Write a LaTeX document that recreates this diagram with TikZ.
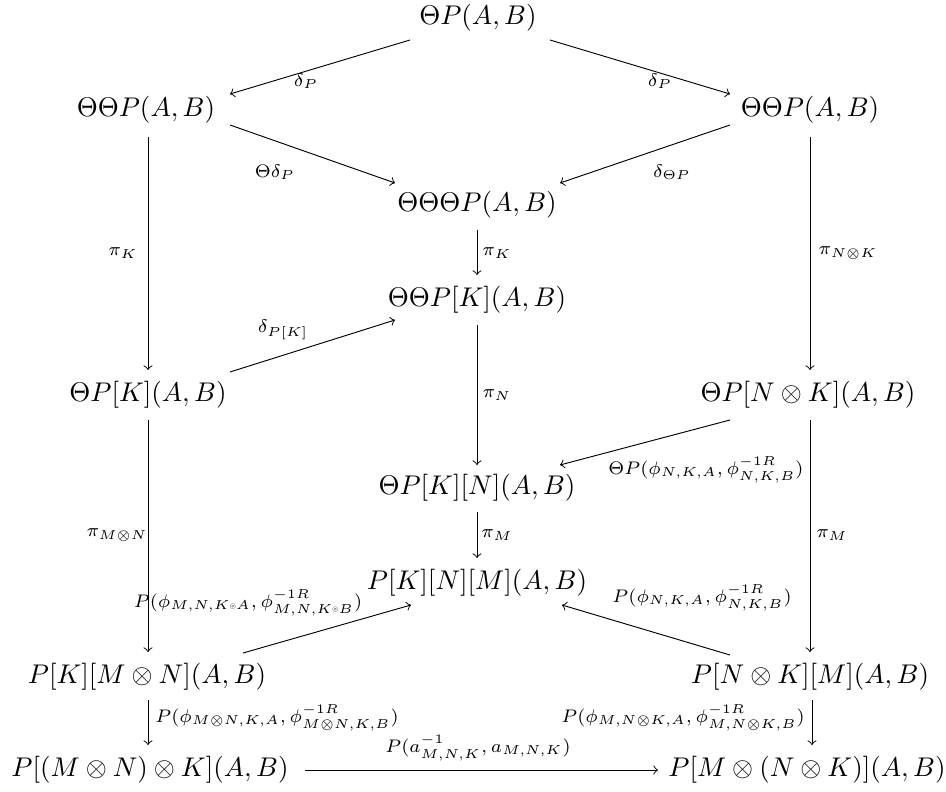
\documentclass[tikz,border=0pt]{standalone}
\usepackage{amssymb}
\newcommand\arrlabel[1]{\scalebox{0.96}{$#1$}}
\newcommand\smallcirc{\vcenter{\hbox{\scalebox{0.4}{$\circledcirc$}}}}
\begin{document}
\begin{tikzpicture}[x=0.37pt,y=-0.37pt,
  obj/.style={inner sep=0pt},
  lab/.style={inner sep=0pt,font=\scriptsize},
  map/.style={->,line width=0.35pt}]
\useasboundingbox (0,0) rectangle (946,792);
% objects
\node[obj] (t)  at (478,18)  {$\Theta P(A,B)$};
\node[obj] (l1) at (146,110) {$\Theta\Theta P(A,B)$};
\node[obj] (r1) at (810,110) {$\Theta\Theta P(A,B)$};
\node[obj] (c1) at (477,205) {$\Theta\Theta\Theta P(A,B)$};
\node[obj] (c2) at (477,300) {$\Theta\Theta P[K](A,B)$};
\node[obj] (l2) at (148,395) {$\Theta P[K](A,B)$};
\node[obj] (r2) at (808,395) {$\Theta P[N\otimes K](A,B)$};
\node[obj] (c3) at (477,488) {$\Theta P[K][N](A,B)$};
\node[obj] (c4) at (477,583) {$P[K][N][M](A,B)$};
\node[obj] (l3) at (147,677) {$P[K][M\otimes N](A,B)$};
\node[obj] (r3) at (810,677) {$P[N\otimes K][M](A,B)$};
\node[obj] (l4) at (150,770) {$P[(M\otimes N)\otimes K](A,B)$};
\node[obj] (r4) at (807,770) {$P[M\otimes(N\otimes K)](A,B)$};
% morphisms
\draw[map] ([shift={(-68,22)}]t.center) -- ([shift={(84,-16)}]l1.center);
\draw[map] ([shift={(72,22)}]t.center) -- ([shift={(-80,-16)}]r1.center);
\draw[map] ([shift={(84,15)}]l1.center) -- ([shift={(-82,-22)}]c1.center);
\draw[map] ([shift={(-80,15)}]r1.center) -- ([shift={(83,-22)}]c1.center);
\draw[map] ([shift={(2,27)}]l1.center) -- ([shift={(0,-25)}]l2.center);
\draw[map] ([shift={(0,27)}]r1.center) -- ([shift={(2,-25)}]r2.center);
\draw[map] ([shift={(0,25)}]c1.center) -- ([shift={(0,-25)}]c2.center);
\draw[map] ([shift={(82,-23)}]l2.center) -- ([shift={(-82,20)}]c2.center);
\draw[map] ([shift={(0,25)}]c2.center) -- ([shift={(0,-23)}]c3.center);
\draw[map] ([shift={(-78,25)}]r2.center) -- ([shift={(83,-23)}]c3.center);
\draw[map] ([shift={(0,25)}]l2.center) -- ([shift={(1,-25)}]l3.center);
\draw[map] ([shift={(0,24)}]c3.center) -- ([shift={(0,-25)}]c4.center);
\draw[map] ([shift={(2,25)}]r2.center) -- ([shift={(0,-25)}]r3.center);
\draw[map] ([shift={(96,-24)}]l3.center) -- ([shift={(-66,22)}]c4.center);
\draw[map] ([shift={(-80,-22)}]r3.center) -- ([shift={(85,22)}]c4.center);
\draw[map] ([shift={(1,23)}]l3.center) -- ([shift={(-2,-25)}]l4.center);
\draw[map] ([shift={(2,23)}]r3.center) -- ([shift={(5,-25)}]r4.center);
\draw[map] ([shift={(155,0)}]l4.center) -- ([shift={(-149,0)}]r4.center);
% labels
\node[lab] (m1)  at (306,81)  {\arrlabel{\delta_P}};
\node[lab] (m2)  at (660,81)  {\arrlabel{\delta_P}};
\node[lab] (m3)  at (275,172) {\arrlabel{\Theta\delta_P}};
\node[lab] (m4)  at (672,172) {\arrlabel{\delta_{\Theta P}}};
\node[lab] (m5)  at (123,253) {\arrlabel{\pi_K}};
\node[lab] (m6)  at (848,253) {\arrlabel{\pi_{N\otimes K}}};
\node[lab] (m7)  at (497,253) {\arrlabel{\pi_K}};
\node[lab] (m8)  at (283,330) {\arrlabel{\delta_{P[K]}}};
\node[lab] (m9)  at (497,395) {\arrlabel{\pi_N}};
\node[lab] (m10) at (706,470) {\arrlabel{\Theta P(\phi_{N,K,A},\phi^{-1R}_{N,K,B})}};
\node[lab] (m11) at (117,535) {\arrlabel{\pi_{M\otimes N}}};
\node[lab] (m12) at (497,535) {\arrlabel{\pi_M}};
\node[lab] (m13) at (832,535) {\arrlabel{\pi_M}};
\node[lab] (m14) at (248,603) {\arrlabel{P(\phi_{M,N,K\smallcirc A},\phi^{-1R}_{M,N,K\smallcirc B})}};
\node[lab] (m15) at (702,598) {\arrlabel{P(\phi_{N,K,A},\phi^{-1R}_{N,K,B})}};
\node[lab] (m16) at (277,718) {\arrlabel{P(\phi_{M\otimes N,K,A},\phi^{-1R}_{M\otimes N,K,B})}};
\node[lab] (m17) at (683,718) {\arrlabel{P(\phi_{M,N\otimes K,A},\phi^{-1R}_{M,N\otimes K,B})}};
\node[lab] (m18) at (478,748) {\arrlabel{P(a^{-1}_{M,N,K},a_{M,N,K})}};
\end{tikzpicture}
\end{document}
